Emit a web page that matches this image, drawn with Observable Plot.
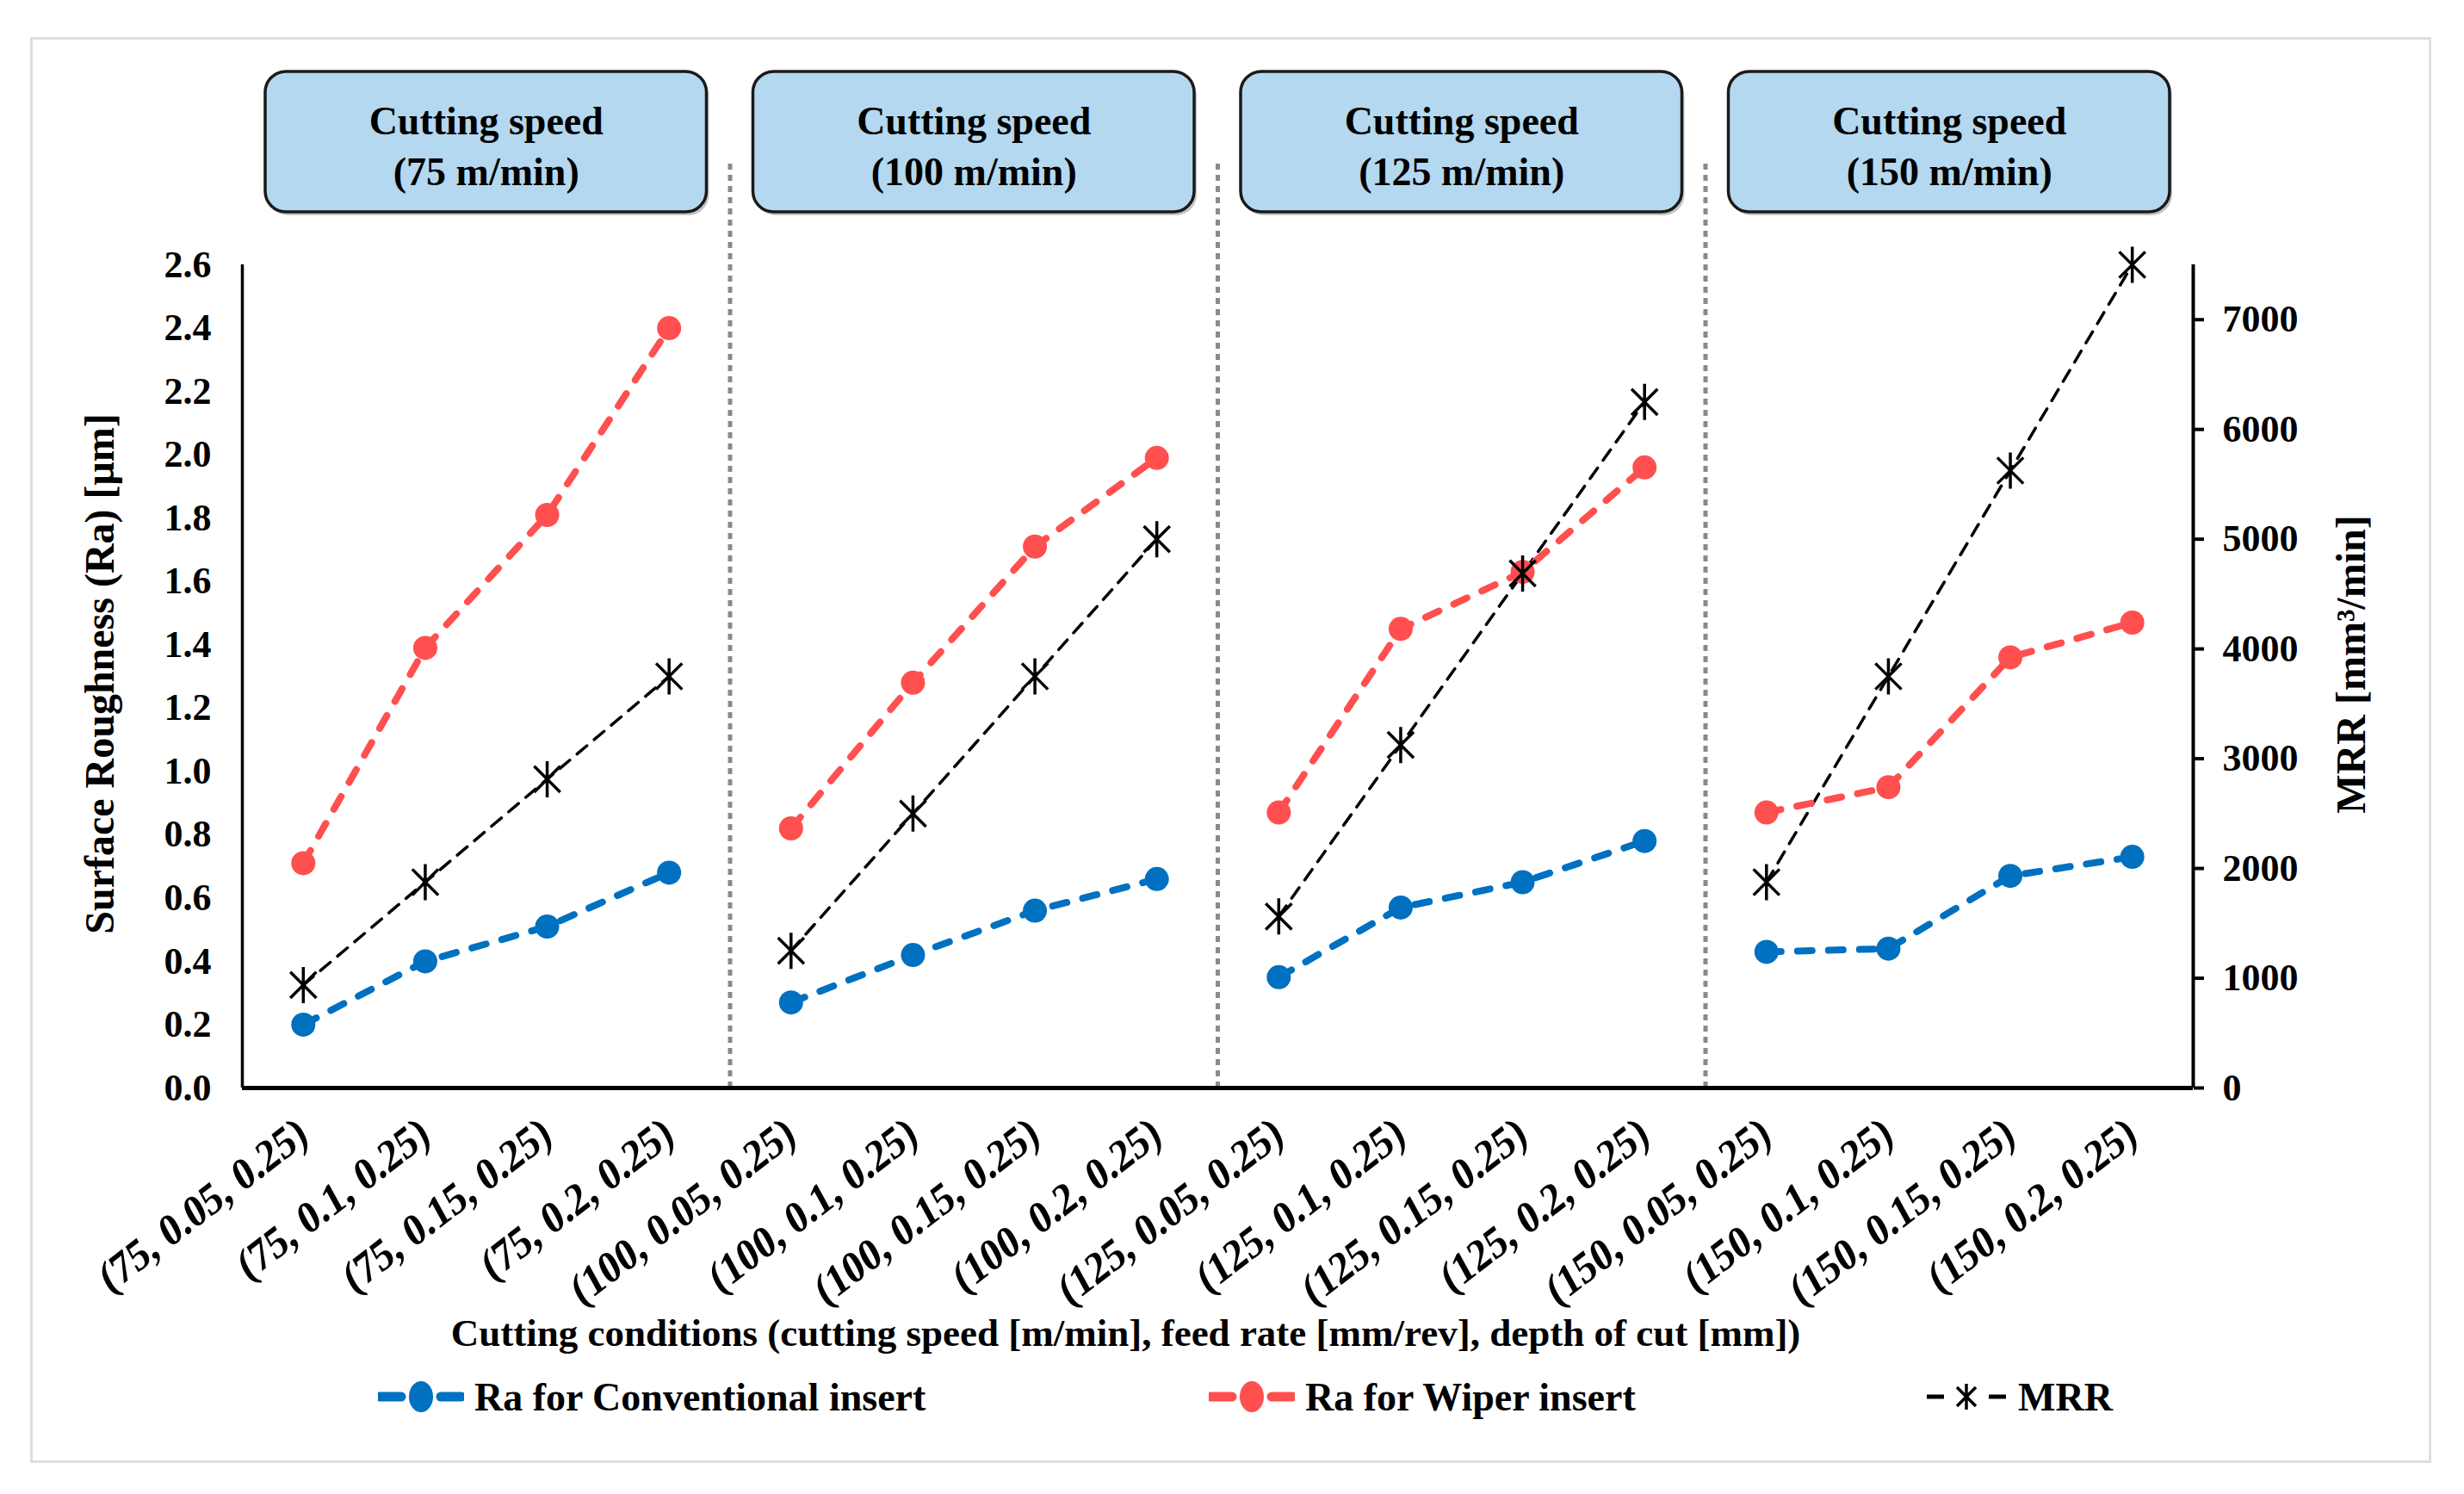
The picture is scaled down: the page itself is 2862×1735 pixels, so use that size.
<!DOCTYPE html>
<html><head><meta charset="utf-8">
<script src="https://cdn.jsdelivr.net/npm/d3@7"></script>
<script src="https://cdn.jsdelivr.net/npm/@observablehq/plot@0.6"></script>
<style>
html,body{margin:0;padding:0;background:#fff;}
#page{position:relative;width:2862px;height:1735px;font-family:"Liberation Serif","Times New Roman",serif;font-weight:bold;color:#000;}
#frame{position:absolute;left:35px;top:43px;width:2789px;height:1656px;border:3px solid #dedede;box-sizing:border-box;}
#chart{position:absolute;left:0;top:0;}
#legend{position:absolute;top:1590px;left:0;width:2862px;height:64px;}
.item{position:absolute;top:0;height:64px;display:flex;align-items:center;font-size:46px;white-space:nowrap;}
.item svg{margin-right:12px;}
</style></head><body>
<div id="page"><div id="frame"></div><div id="chart"></div><div id="legend"></div></div>
<script>
// ---- data ----
const conditions = [
  "(75, 0.05, 0.25)", "(75, 0.1, 0.25)", "(75, 0.15, 0.25)", "(75, 0.2, 0.25)",
  "(100, 0.05, 0.25)", "(100, 0.1, 0.25)", "(100, 0.15, 0.25)", "(100, 0.2, 0.25)",
  "(125, 0.05, 0.25)", "(125, 0.1, 0.25)", "(125, 0.15, 0.25)", "(125, 0.2, 0.25)",
  "(150, 0.05, 0.25)", "(150, 0.1, 0.25)", "(150, 0.15, 0.25)", "(150, 0.2, 0.25)"
];
const cuttingSpeeds = [75, 100, 125, 150];
const headerLabels = ["Cutting speed\n(75 m/min)", "Cutting speed\n(100 m/min)", "Cutting speed\n(125 m/min)", "Cutting speed\n(150 m/min)"];
const raConventional = [0.20, 0.40, 0.51, 0.68, 0.27, 0.42, 0.56, 0.66, 0.35, 0.57, 0.65, 0.78, 0.43, 0.44, 0.67, 0.73];
const raWiper = [0.71, 1.39, 1.81, 2.40, 0.82, 1.28, 1.71, 1.99, 0.87, 1.45, 1.63, 1.96, 0.87, 0.95, 1.36, 1.47];
const mrr = [938, 1875, 2813, 3750, 1250, 2500, 3750, 5000, 1563, 3125, 4688, 6250, 1875, 3750, 5625, 7500];
const raTicks = [0, 0.2, 0.4, 0.6, 0.8, 1.0, 1.2, 1.4, 1.6, 1.8, 2.0, 2.2, 2.4, 2.6];
const mrrTicks = [0, 1000, 2000, 3000, 4000, 5000, 6000, 7000];
const raMax = 2.6, mrrMax = 7500;
const seriesNames = ["Ra for Conventional insert", "Ra for Wiper insert", "MRR"];
const yTitleLeft = "Surface Roughness (Ra) [μm]";
const yTitleRight = "MRR [mm³/min]";
const xTitle = "Cutting conditions (cutting speed [m/min], feed rate [mm/rev], depth of cut [mm])";

// ---- styles / layout ----
const BLUE = "#0070c0", RED = "#ff4f4f", BLACK = "#000";
const W = 2862, H = 1590;
const ML = 281, MR = W - 2547, MT = 307, MB = H - 1263;
const k = raMax / mrrMax; // MRR -> Ra units for the secondary axis
const pxToY = px => (1263 - px) / (1263 - MT) * raMax;

const rows = conditions.map((c, i) => ({
  i, c, g: Math.floor(i / 4),
  conv: raConventional[i], wiper: raWiper[i], mrr: mrr[i], mrrY: mrr[i] * k
}));
const groups = cuttingSpeeds.map((s, g) => ({g, s, label: headerLabels[g], x1: g * 4 - 0.5, x2: g * 4 + 3.5, xc: g * 4 + 1.5}));
const separators = groups.slice(1).map(d => d.x1);

const star = {
  draw(ctx, size) {
    const r = Math.sqrt(size / Math.PI), d = r * 0.72;
    ctx.moveTo(0, -r); ctx.lineTo(0, r);
    ctx.moveTo(-d, -d); ctx.lineTo(d, d);
    ctx.moveTo(d, -d); ctx.lineTo(-d, d);
  }
};

const font = {fontFamily: "Liberation Serif", fontWeight: "bold"};

const plot = Plot.plot({
  width: W, height: H,
  marginLeft: ML, marginRight: MR, marginTop: MT, marginBottom: MB,
  style: {fontFamily: "Liberation Serif, serif", fontWeight: "bold", color: "#000", background: "transparent", overflow: "visible"},
  x: {type: "linear", domain: [-0.5, 15.5], axis: null},
  y: {type: "linear", domain: [0, raMax]},
  marks: [
    // group separators
    Plot.ruleX(separators, {x: d => d, y1: 0, y2: pxToY(190), stroke: "#8a8a8a", strokeWidth: 5, strokeDasharray: "7,6"}),
    // header boxes (shadow + box)
    Plot.rect(groups, {x1: "x1", x2: "x2", y1: pxToY(246), y2: pxToY(83), insetLeft: 27, insetRight: 27, rx: 24, fill: "#555", fillOpacity: 0.35, dx: 3, dy: 4}),
    Plot.rect(groups, {x1: "x1", x2: "x2", y1: pxToY(246), y2: pxToY(83), insetLeft: 27, insetRight: 27, rx: 24, fill: "#b4d8ef", stroke: "#1a1a1a", strokeWidth: 3.5}),
    Plot.text(groups, {x: "xc", y: pxToY(166), text: "label", fontSize: 46, lineHeight: 1.28, fill: "#000", ...font}),
    // axes lines
    Plot.ruleX([-0.5], {y1: 0, y2: raMax, stroke: BLACK, strokeWidth: 3.5}),
    Plot.ruleX([15.5], {y1: 0, y2: raMax, stroke: BLACK, strokeWidth: 4}),
    Plot.axisY({anchor: "left", ticks: raTicks, tickFormat: d3.format(".1f"), tickSize: 0, tickPadding: 36, fontSize: 44, label: null, ...font}),
    Plot.axisY({anchor: "right", ticks: mrrTicks.map(v => v * k), tickFormat: d => String(Math.round(d / k / 1000) * 1000), tickSize: 12, strokeWidth: 4, tickPadding: 22, fontSize: 44, label: null, ...font}),
    // x tick labels (category names), rotated
    Plot.text(rows, {x: "i", y: 0, text: "c", rotate: -33, textAnchor: "end", lineAnchor: "middle", dy: 47, fontSize: 45, fill: "#000", className: "xtick", ...font}),
    // series
    Plot.line(rows, {x: "i", y: "mrrY", z: "g", stroke: BLACK, strokeWidth: 3.5, strokeDasharray: "15,11"}),
    Plot.line(rows, {x: "i", y: "wiper", z: "g", stroke: RED, strokeWidth: 8, strokeDasharray: "17,19", strokeLinecap: "round"}),
    Plot.line(rows, {x: "i", y: "conv", z: "g", stroke: BLUE, strokeWidth: 8, strokeDasharray: "17,19", strokeLinecap: "round"}),
    Plot.dot(rows, {x: "i", y: "wiper", r: 14, fill: RED, stroke: "none"}),
    Plot.dot(rows, {x: "i", y: "conv", r: 14, fill: BLUE, stroke: "none"}),
    Plot.dot(rows, {x: "i", y: "mrrY", r: 21, symbol: star, stroke: BLACK, strokeWidth: 3.5, fill: "none"}),
    Plot.ruleY([0], {x1: -0.5, x2: 15.5, stroke: BLACK, strokeWidth: 5}),
    // axis titles
    Plot.text([yTitleLeft], {frameAnchor: "left", textAnchor: "middle", dx: -165, dy: -3, rotate: -90, fontSize: 48, letterSpacing: "1.8px", text: d => d, ...font}),
    Plot.text([yTitleRight], {frameAnchor: "right", textAnchor: "middle", dx: 184, dy: -14, rotate: -90, fontSize: 48, letterSpacing: "2px", text: d => d, ...font}),
    Plot.text([xTitle], {frameAnchor: "bottom", dx: -107, dy: 299, fontSize: 45, text: d => d, ...font})
  ]
});
// give the rotated category labels the slight vertical stretch of the original
d3.select(plot).selectAll("g.xtick text, .xtick text").each(function () {
  const t = this.getAttribute("transform");
  if (t && /rotate\(/.test(t) && !/scale\(/.test(t)) this.setAttribute("transform", t.replace(/rotate\(/, "scale(1,1.18) rotate("));
});
document.getElementById("chart").appendChild(plot);

// ---- legend ----
const legend = document.getElementById("legend");
function addItem(left, name, swatch) {
  const div = document.createElement("div");
  div.className = "item";
  div.style.left = left + "px";
  div.innerHTML = swatch + "<span>" + name + "</span>";
  legend.appendChild(div);
}
function raSwatch(color) {
  return `<svg width="100" height="64" viewBox="0 0 100 64">
    <line x1="2" y1="32" x2="27" y2="32" stroke="${color}" stroke-width="11" stroke-linecap="round"/>
    <line x1="73" y1="32" x2="97" y2="32" stroke="${color}" stroke-width="11" stroke-linecap="round"/>
    <ellipse cx="50" cy="32" rx="14" ry="18" fill="${color}"/></svg>`;
}
const mrrSwatch = `<svg width="96" height="64" viewBox="0 0 96 64">
    <line x1="2" y1="32" x2="22" y2="32" stroke="#000" stroke-width="5"/>
    <line x1="74" y1="32" x2="94" y2="32" stroke="#000" stroke-width="5"/>
    <g stroke="#000" stroke-width="3.5" transform="translate(48,32)">
      <line x1="0" y1="-15" x2="0" y2="15"/><line x1="-11" y1="-11" x2="11" y2="11"/><line x1="11" y1="-11" x2="-11" y2="11"/></g></svg>`;
addItem(439, seriesNames[0], raSwatch(BLUE));
addItem(1404, seriesNames[1], raSwatch(RED));
addItem(2236, seriesNames[2], mrrSwatch);
</script>
</body></html>
